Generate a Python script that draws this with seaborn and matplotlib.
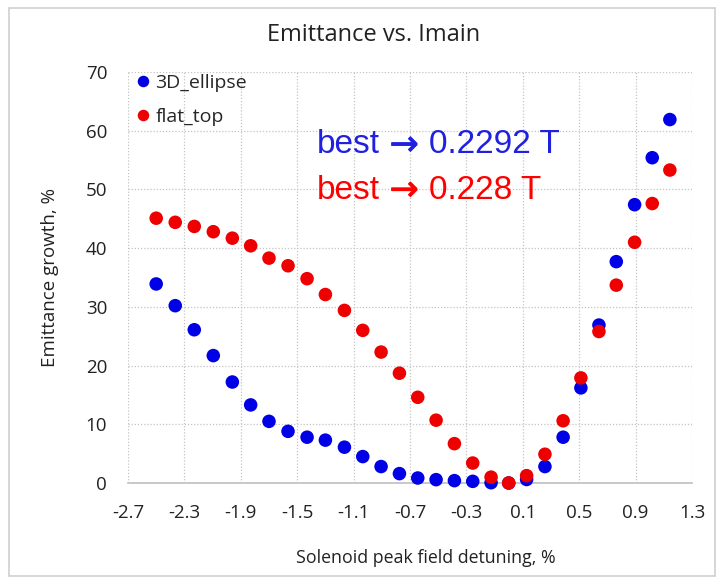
import matplotlib
matplotlib.use("Agg")
import matplotlib.pyplot as plt
import matplotlib.patheffects as pe
import seaborn as sns
import pandas as pd
from matplotlib.patches import Rectangle

detuning = [-2.50, -2.365, -2.23, -2.095, -1.96, -1.83, -1.70, -1.565, -1.43, -1.30,
            -1.165, -1.035, -0.905, -0.775, -0.645, -0.515, -0.385, -0.255, -0.125, 0.0,
            0.127, 0.257, 0.386, 0.512, 0.64, 0.763, 0.893, 1.018, 1.143]
ellipse_3d = [33.9, 30.2, 26.1, 21.7, 17.2, 13.3, 10.5, 8.8, 7.8, 7.3,
              6.1, 4.5, 2.8, 1.6, 0.85, 0.57, 0.4, 0.28, 0.05, 0.0,
              0.6, 2.8, 7.8, 16.2, 26.9, 37.7, 47.4, 55.4, 61.9]
flat_top = [45.1, 44.4, 43.7, 42.8, 41.7, 40.4, 38.3, 37.0, 34.8, 32.1,
            29.4, 26.0, 22.3, 18.7, 14.6, 10.7, 6.7, 3.4, 1.0, 0.0,
            1.25, 4.9, 10.6, 17.9, 25.8, 33.7, 41.0, 47.6, 53.3]
series_names = ["3D_ellipse", "flat_top"]
x_ticks = [-2.7, -2.3, -1.9, -1.5, -1.1, -0.7, -0.3, 0.1, 0.5, 0.9, 1.3]
y_ticks = [0, 10, 20, 30, 40, 50, 60, 70]
best_values = ["0.2292 T", "0.228 T"]

df = pd.concat([
    pd.DataFrame({"x": detuning, "y": ellipse_3d, "series": series_names[0]}),
    pd.DataFrame({"x": detuning, "y": flat_top, "series": series_names[1]}),
], ignore_index=True)

sns.set_theme(style="white")
plt.rcParams["font.family"] = ["Open Sans", "DejaVu Sans"]

fig = plt.figure(figsize=(7.19, 5.80), dpi=100)
ax = fig.add_axes([128/719, 1-483/580, (692-128)/719, (483-72)/580])

palette = {"3D_ellipse": "#0000e6", "flat_top": "#ee0000"}
sns.scatterplot(data=df, x="x", y="y", hue="series", palette=palette, s=95,
                edgecolor="none", ax=ax, clip_on=False, zorder=3)

ax.set_xlim(-2.7, 1.3)
ax.set_ylim(0, 70)
ax.set_xticks(x_ticks)
ax.set_xticklabels([f"{t:.1f}" for t in x_ticks])
ax.set_yticks(y_ticks)
ax.set_yticklabels([str(t) for t in y_ticks])
ax.tick_params(axis="both", length=0, labelsize=13.5, colors="#222222", pad=15)
ax.grid(True, linestyle=(0, (1, 1.5)), color="#c4c4c4", linewidth=0.9)
for side in ["left", "top", "right"]:
    ax.spines[side].set_visible(False)
ax.spines["bottom"].set_color("#bfbfbf")
ax.spines["bottom"].set_linewidth(1.2)

ax.set_xlabel("Solenoid peak field detuning, %", fontsize=12.8, color="#222222")
ax.xaxis.set_label_coords((426-128)/564, (483-558)/411)
ax.xaxis.label.set_va("center")
ax.set_ylabel("Emittance growth, %", fontsize=13.5, color="#222222", labelpad=19)
fig.text(0.52, 1-35/580, "Emittance vs. Imain", ha="center", va="center",
         fontsize=17, color="#222222")

leg = ax.legend(loc="upper left", bbox_to_anchor=(0, 1.015), frameon=False, fontsize=14,
                handletextpad=0.25, handlelength=0.75, borderpad=0.4,
                labelspacing=0.85, borderaxespad=0, markerscale=0.85)

text_colors = ["#2020e0", "#ff0000"]
text_y = [57.6, 49.9]
for val, col, yy in zip(best_values, text_colors, text_y):
    t1 = ax.text(-1.36, yy, "best", color=col, fontsize=24,
                 family=["Liberation Sans", "DejaVu Sans"], va="center", ha="left")
    t2 = ax.annotate("\u2192", xy=(1, 0), xycoords=t1, xytext=(7, -1.2),
                     textcoords="offset points", color=col, fontsize=25,
                     family=["DejaVu Sans"], va="bottom", ha="left",
                     path_effects=[pe.withStroke(linewidth=0.6, foreground=col)])
    ax.annotate(val, xy=(1, 0), xycoords=t2, xytext=(7, 1.2),
                textcoords="offset points", color=col, fontsize=24,
                family=["Liberation Sans", "DejaVu Sans"], va="bottom", ha="left")

fig.patches.append(Rectangle((9/719, 4/580), 706/719, 568/580, transform=fig.transFigure,
                             fill=False, edgecolor="#d0d0d0", linewidth=1.2))

fig.savefig("out.png", dpi=100)
